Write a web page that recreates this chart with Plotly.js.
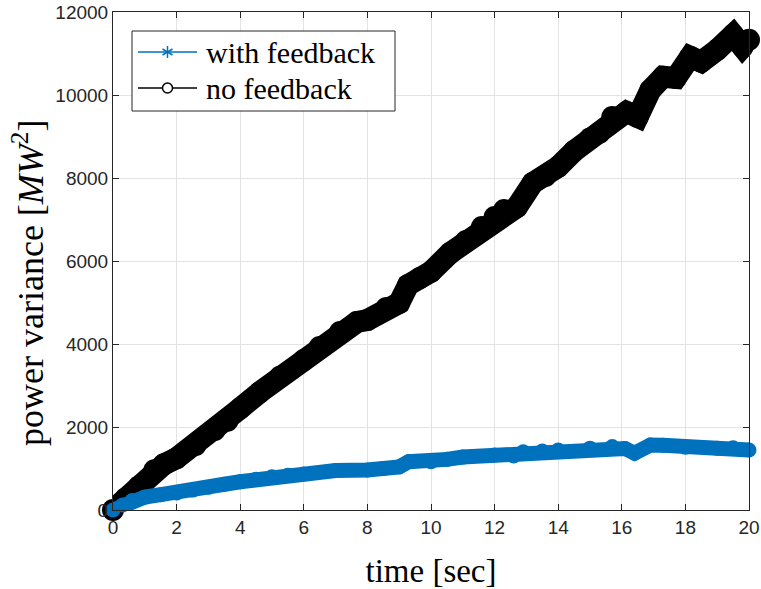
<!DOCTYPE html>
<html>
<head>
<meta charset="utf-8">
<script src="https://cdn.plot.ly/plotly-3.0.1.min.js"></script>
<style>html,body{margin:0;padding:0;background:#fff;}#chart{width:761px;height:589px;}</style>
</head>
<body>
<div id="chart"></div>
<script>
// "no feedback" series (black)
var noFbTime = [0,0.4,0.8,1.3,1.6,2,2.6,3.2,3.6,4,4.62,5.25,6,6.5,7.14,7.67,8,8.6,9,9.28,9.65,10,10.6,11.1,11.6,12,12.3,12.7,13.2,13.6,14,14.5,15,15.3,15.7,16.15,16.5,16.9,17.3,17.7,18.15,18.5,19,19.5,19.8,20];
var noFbVar = [0,280,560,960,1100,1250,1570,1930,2150,2450,2840,3210,3615,3930,4290,4530,4580,4870,4990,5420,5590,5740,6190,6480,6820,7060,7230,7300,7880,8050,8270,8650,8950,9090,9470,9590,9470,10120,10440,10410,10920,10800,11090,11450,11160,11330];
// "with feedback" series (blue)
var fbTime = [0,0.3,0.6,1,1.5,2,2.5,3,3.5,4,4.5,5,5.5,6,7,8,8.5,9,9.3,10,10.5,11,12,12.6,12.9,13.5,14,15,15.7,16.1,16.4,16.9,17.3,18,19,19.5,20];
var fbVar = [0,120,230,310,370,410,480,550,620,680,740,800,840,870,950,965,1000,1040,1165,1165,1220,1275,1325,1300,1405,1420,1445,1490,1530,1480,1370,1565,1560,1515,1490,1500,1445];
var seriesNames = ['with feedback','no feedback'];
var xTicks = [0,2,4,6,8,10,12,14,16,18,20];
var yTicks = [0,2000,4000,6000,8000,10000,12000];

var BLUE = '#0072BD', BLACK = '#000000', AX = '#262626';
var W = 761, H = 589, ML = 113, MR = 12, MT = 12, MB = 79;
var PW = W - ML - MR, PH = H - MT - MB;
function px(x){ return (x - ML) / PW; }
function py(y){ return (H - MB - y) / PH; }

var traces = [
  {x: noFbTime, y: noFbVar, type:'scatter', mode:'lines+markers', name:seriesNames[1], showlegend:false,
   line:{color:BLACK, width:22}, marker:{color:BLACK, size:22, symbol:'circle'}, cliponaxis:false},
  {x: fbTime, y: fbVar, type:'scatter', mode:'lines+markers', name:seriesNames[0], showlegend:false,
   line:{color:BLUE, width:15}, marker:{color:BLUE, size:15, symbol:'circle'}, cliponaxis:false}
];

// legend drawn as layout decoration
var legRows = [52, 88];
var legColors = [BLUE, BLACK];
var shapes = [
  {type:'rect', xref:'paper', yref:'paper', x0:px(132), x1:px(395), y0:py(111), y1:py(31),
   line:{color:AX, width:1}, fillcolor:'#fff', layer:'above'}
];
var annotations = [];
legRows.forEach(function(r, i){
  shapes.push({type:'line', xref:'paper', yref:'paper', x0:px(138), x1:px(197), y0:py(r), y1:py(r),
    line:{color:legColors[i], width:1.5}, layer:'above'});
  annotations.push({xref:'paper', yref:'paper', x:px(204), y:py(r), xanchor:'left', yanchor:'middle',
    text:seriesNames[i], showarrow:false, font:{family:'Liberation Serif, serif', size:30, color:'#000'}});
});
var mx = px(167.5);
// asterisk symbol
[[0,-6,0,6],[-5,-3,5,3],[-5,3,5,-3]].forEach(function(s){
  shapes.push({type:'line', xref:'paper', yref:'paper', xsizemode:'pixel', ysizemode:'pixel',
    xanchor:mx, yanchor:py(legRows[0]), x0:s[0], x1:s[2], y0:s[1], y1:s[3],
    line:{color:BLUE, width:1.5}, layer:'above'});
});
// open circle symbol
shapes.push({type:'circle', xref:'paper', yref:'paper', xsizemode:'pixel', ysizemode:'pixel',
  xanchor:mx, yanchor:py(legRows[1]), x0:-5, x1:5, y0:-5, y1:5,
  line:{color:BLACK, width:1.5}, fillcolor:'#fff', layer:'above'});

// y-axis title
annotations.push({xref:'paper', yref:'paper', x:px(28), y:py(283), xanchor:'center', yanchor:'middle',
  textangle:-90, showarrow:false, text:'power variance [<i>MW</i><sup>2</sup>]',
  font:{family:'Liberation Serif, serif', size:36, color:'#000'}});

var layout = {
  width:W, height:H,
  margin:{l:ML, r:MR, t:MT, b:MB},
  paper_bgcolor:'#fff', plot_bgcolor:'#fff',
  showlegend:false,
  shapes:shapes, annotations:annotations,
  xaxis:{range:[0,20], tickvals:xTicks, ticktext:xTicks.map(String), ticks:'inside', ticklen:6,
         tickcolor:AX, showline:true, linecolor:AX, linewidth:1, mirror:'ticks',
         showgrid:true, gridcolor:'#e3e3e3', gridwidth:1, zeroline:false,
         tickfont:{family:'Liberation Sans, Arial, sans-serif', size:19, color:AX},
         title:{text:'time [sec]', font:{family:'Liberation Serif, serif', size:33, color:'#000'}, standoff:22}},
  yaxis:{range:[0,12000], tickvals:yTicks, ticktext:yTicks.map(String), ticks:'inside', ticklen:6,
         tickcolor:AX, showline:true, linecolor:AX, linewidth:1, mirror:'ticks',
         showgrid:true, gridcolor:'#e3e3e3', gridwidth:1, zeroline:false,
         tickfont:{family:'Liberation Sans, Arial, sans-serif', size:19, color:AX}}
};

Plotly.newPlot('chart', traces, layout, {displayModeBar:false, staticPlot:true});
</script>
</body>
</html>
